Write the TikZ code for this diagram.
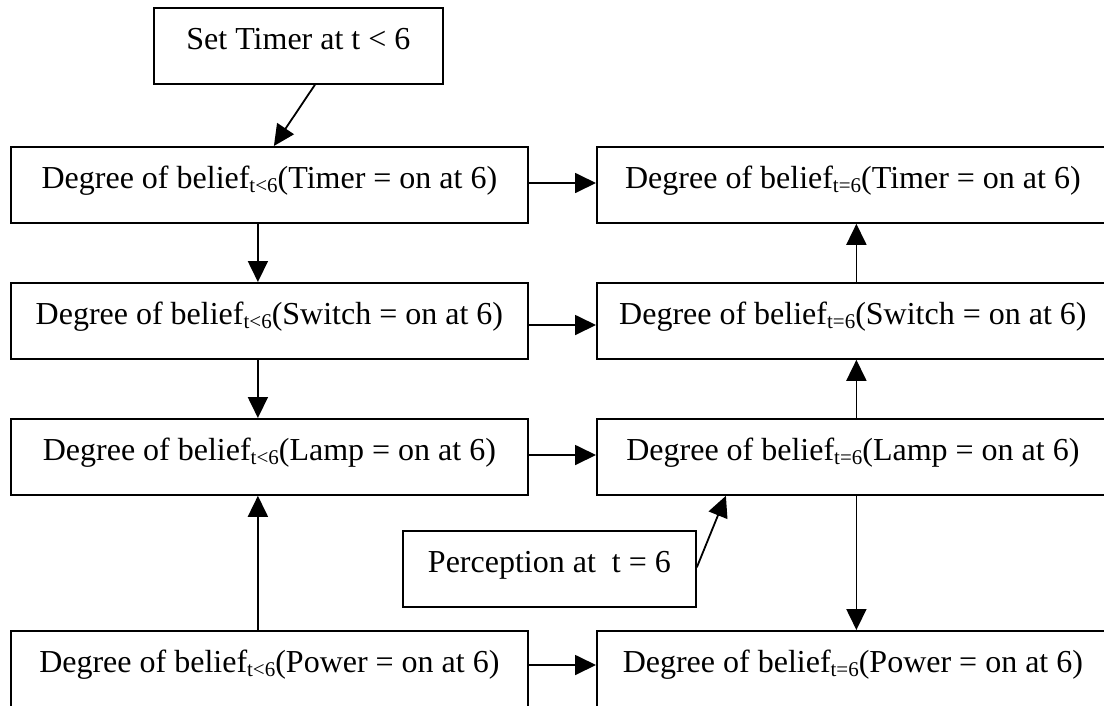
\documentclass[tikz,border=0pt]{standalone}
\usepackage{fontspec}
\setmainfont{Liberation Serif}
\usetikzlibrary{arrows.meta}
\newcommand\subtx[1]{\raisebox{-4pt}{\fontsize{21}{21}\selectfont #1}}
\begin{document}
\begin{tikzpicture}[x=1pt,y=-1pt,
  stepbox/.style={draw, line width=1.8pt, inner sep=0pt, text height=42pt, text depth=34pt,
    anchor=north west, font=\fontsize{32}{38}\selectfont},
  arr/.style={line width=1.8pt, -{Triangle[length=21pt,width=20pt]}}]
\path[use as bounding box, clip] (0,0) rectangle (1104,705);
\fill[white] (0,0) rectangle (1104,705);
\node[stepbox, minimum width=289pt] (T) at (153,7) {Set Timer at t < 6};
\node[stepbox, minimum width=517pt] (L1) at (10,146) {Degree of belief\subtx{t<6}(Timer = on at 6)};
\node[stepbox, minimum width=517pt] (L2) at (10,282) {Degree of belief\subtx{t<6}(Switch = on at 6)};
\node[stepbox, minimum width=517pt] (L3) at (10,418) {Degree of belief\subtx{t<6}(Lamp = on at 6)};
\node[stepbox, minimum width=517pt] (L4) at (10,630) {Degree of belief\subtx{t<6}(Power = on at 6)};
\node[stepbox, minimum width=512pt] (R1) at (596,146) {Degree of belief\subtx{t=6}(Timer = on at 6)};
\node[stepbox, minimum width=512pt] (R2) at (596,282) {Degree of belief\subtx{t=6}(Switch = on at 6)};
\node[stepbox, minimum width=512pt] (R3) at (596,418) {Degree of belief\subtx{t=6}(Lamp = on at 6)};
\node[stepbox, minimum width=512pt] (R4) at (596,630) {Degree of belief\subtx{t=6}(Power = on at 6)};
\node[stepbox, minimum width=293pt] (P) at (402,530) {Perception at \ t = 6};
% top arrow
\draw[arr] ([xshift=16.5pt]T.south) -- ([xshift=4.5pt]L1.north);
% horizontal arrows
\draw[arr] ([yshift=-37pt]L1.north east) -- ([yshift=-37pt]R1.north west);
\draw[arr] ([yshift=-43pt]L2.north east) -- ([yshift=-43pt]R2.north west);
\draw[arr] ([yshift=-37pt]L3.north east) -- ([yshift=-37pt]R3.north west);
\draw[arr] ([yshift=-35pt]L4.north east) -- ([yshift=-35pt]R4.north west);
% left column
\draw[arr] ([xshift=-11.5pt]L1.south) -- ([xshift=-11.5pt]L2.north);
\draw[arr] ([xshift=-11.5pt]L2.south) -- ([xshift=-11.5pt]L3.north);
\draw[arr] ([xshift=-11.5pt]L4.north) -- ([xshift=-11.5pt]L3.south);
% right column
\draw[arr] ([xshift=3.5pt]R2.north) -- ([xshift=3.5pt]R1.south);
\draw[arr] ([xshift=3.5pt]R3.north) -- ([xshift=3.5pt]R2.south);
\draw[arr] ([xshift=3.5pt]R3.south) -- ([xshift=3.5pt]R4.north);
% perception
\draw[arr] ([yshift=1.5pt]P.east) -- ([xshift=-127pt]R3.south);
\end{tikzpicture}
\end{document}
